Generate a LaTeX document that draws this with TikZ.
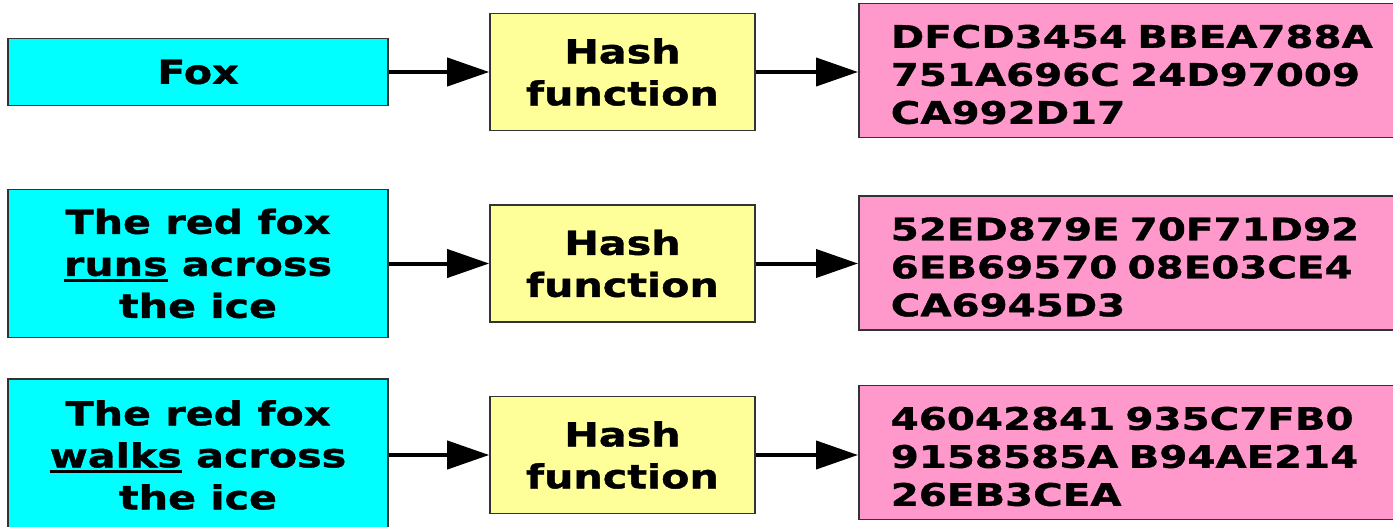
\documentclass[tikz,border=0pt]{standalone}
\usepackage{fontspec}
\usetikzlibrary{arrows.meta}
\newfontfamily\boxfont{DejaVu Sans Bold}[FakeStretch=1.25, FakeBold=1.2]
\newfontfamily\hexfont{DejaVu Sans Bold}[FakeStretch=1.3, FakeBold=1.2]
% thick underline set just below the baseline
\newcommand\ulword[1]{\setbox0\hbox{#1}\rlap{\rule[-6pt]{\wd0}{3pt}}\box0\relax}
\definecolor{inputfill}{HTML}{00FFFF}
\definecolor{hashfill}{HTML}{FFFF99}
\definecolor{digestfill}{HTML}{FF99CC}
\definecolor{edge}{HTML}{333333}
\tikzset{
  x=1pt, y=-1pt,
  box/.style={draw=edge, line width=1.6pt, inner sep=0pt, align=center},
  inbox/.style={box, fill=inputfill, minimum width=380pt,
    font=\boxfont\fontsize{33}{42}\selectfont},
  hashbox/.style={box, fill=hashfill, minimum width=265pt, minimum height=117pt,
    font=\boxfont\fontsize{33}{42}\selectfont},
  digestbox/.style={box, fill=digestfill, minimum height=134pt, align=left,
    text width=530pt, inner xsep=32pt, text height=31pt,
    font=\hexfont\fontsize{31}{38}\selectfont},
  flow/.style={line width=4pt, -{Triangle[length=42pt,width=28pt]}}
}
\begin{document}
\begin{tikzpicture}
\useasboundingbox[fill=white] (0,0) rectangle (1393,527);

% inputs
\node[inbox, minimum height=67pt] (in1) at (198,72) {Fox};
\node[inbox, minimum height=148pt] (in2) at (198,263.5)
  {The red fox\\ \ulword{runs} across\\ the ice};
\node[inbox, minimum height=152pt] (in3) at (198,455)
  {The red fox\\ \ulword{walks} across\\ the ice};

% hash functions
\node[hashbox] (h1) at (622.5,72) {Hash\\ function};
\node[hashbox] (h2) at (622.5,263.5) {Hash\\ function};
\node[hashbox] (h3) at (622.5,455) {Hash\\ function};

% digests
\node[digestbox, anchor=west] (d1) at (858,70.5)
  {DFCD3454 BBEA788A\\ 751A696C 24D97009\\ CA992D17};
\node[digestbox, anchor=west] (d2) at (858,263)
  {52ED879E 70F71D92\\ 6EB69570 08E03CE4\\ CA6945D3};
\node[digestbox, anchor=west] (d3) at (858,452.5)
  {46042841 935C7FB0\\ 9158585A B94AE214\\ 26EB3CEA};

% connectors
\foreach \i in {1,2,3} {
  \draw[flow] (in\i.east) -- (h\i.west);
  \draw[flow] (h\i.east) -- (h\i.east -| d\i.west);
}
\end{tikzpicture}
\end{document}
